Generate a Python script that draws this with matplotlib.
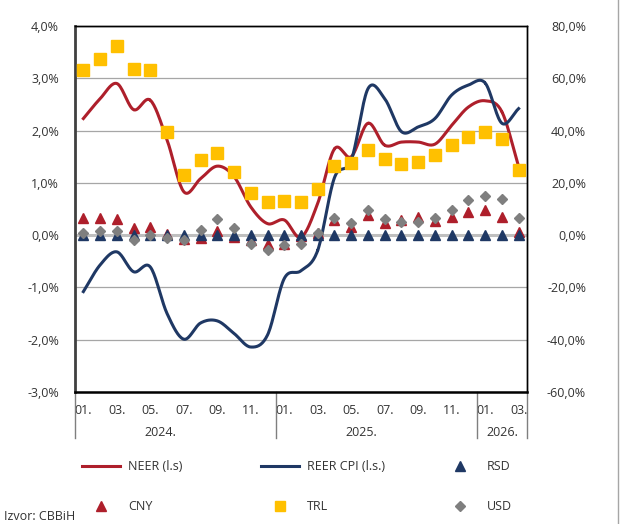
import matplotlib
matplotlib.use("Agg")
import matplotlib.pyplot as plt
from matplotlib.lines import Line2D
import numpy as np

plt.rcParams["font.family"] = ["Open Sans", "DejaVu Sans"]
plt.rcParams["font.size"] = 9

RED = "#AE1F2B"
NAVY = "#1F3864"
YELLOW = "#FFC000"
GREY = "#7F7F7F"
TXT = "#333333"

MONTHS = ["01.", "02.", "03.", "04.", "05.", "06.", "07.", "08.", "09.", "10.", "11.", "12.",
          "01.", "02.", "03.", "04.", "05.", "06.", "07.", "08.", "09.", "10.", "11.", "12.",
          "01.", "02.", "03."]
YEARS = ["2024.", "2025.", "2026."]

# left axis, %
NEER = [2.23, 2.61, 2.90, 2.40, 2.58, 1.82, 0.83, 1.08, 1.32, 1.12, 0.54, 0.22,
        0.29, -0.04, 0.61, 1.65, 1.50, 2.14, 1.72, 1.78, 1.78, 1.74, 2.10, 2.45,
        2.57, 2.36, 1.31]
REER = [-1.08, -0.57, -0.32, -0.70, -0.61, -1.50, -1.99, -1.68, -1.64, -1.88, -2.14, -1.91,
        -0.83, -0.68, -0.29, 1.10, 1.43, 2.80, 2.61, 1.98, 2.07, 2.23, 2.68, 2.87,
        2.91, 2.14, 2.42]
# right axis, %
RSD = [0.0, 0.0, 0.0, 0.0, 0.0, 0.0, 0.0, 0.0, 0.0, 0.0, 0.0, 0.0,
       0.0, 0.0, 0.0, 0.0, 0.0, 0.0, 0.0, 0.0, 0.0, 0.0, 0.0, 0.0,
       0.0, 0.0, 0.0]
CNY = [6.4, 6.4, 6.3, 2.6, 3.2, 0.6, -1.4, -1.0, 1.5, -0.6, -1.9, -3.2,
       -3.4, -0.3, 0.7, 5.7, 3.2, 7.6, 4.8, 5.8, 6.8, 5.5, 7.0, 8.7,
       9.8, 7.0, 1.3]
TRL = [63.1, 67.2, 72.3, 63.7, 63.1, 39.3, 22.9, 28.7, 31.6, 24.0, 16.3, 12.5,
       13.1, 12.5, 17.6, 26.5, 27.6, 32.5, 29.3, 27.2, 27.8, 30.6, 34.4, 37.6,
       39.3, 36.6, 24.9]
USD = [1.0, 1.5, 1.7, -1.9, 0.0, -1.0, -1.9, 1.9, 6.0, 2.8, -3.2, -5.7,
       -3.8, -3.4, 0.8, 6.4, 4.8, 9.8, 6.1, 5.0, 5.1, 6.4, 9.8, 13.4,
       14.9, 13.7, 6.4]


def smooth(values, n=20):
    # Catmull-Rom curve through the points, like Excel's smoothed line
    y = np.asarray(values, dtype=float)
    x = np.arange(len(y), dtype=float)
    px = np.concatenate([[2 * x[0] - x[1]], x, [2 * x[-1] - x[-2]]])
    py = np.concatenate([[2 * y[0] - y[1]], y, [2 * y[-1] - y[-2]]])
    t = np.linspace(0, 1, n)[:, None]
    xs, ys = [], []
    for i in range(len(y) - 1):
        for p, out in ((px, xs), (py, ys)):
            p0, p1, p2, p3 = p[i:i + 4]
            seg = 0.5 * (2 * p1 + (-p0 + p2) * t + (2 * p0 - 5 * p1 + 4 * p2 - p3) * t ** 2
                         + (-p0 + 3 * p1 - 3 * p2 + p3) * t ** 3)
            out.append(seg.ravel())
    return np.concatenate(xs), np.concatenate(ys)


W, H = 620, 524
fig = plt.figure(figsize=(W / 100, H / 100), dpi=100)
ax = fig.add_axes([75 / W, (H - 392) / H, (527 - 75) / W, (392 - 26) / H])
ax2 = ax.twinx()

x = np.arange(len(MONTHS))

# grid
for v in range(-3, 5):
    if v == 0:
        ax.axhline(v, color="#BFBFBF", lw=2.2, zorder=1)
    else:
        ax.axhline(v, color="#A6A6A6", lw=0.9, zorder=1)

ax.plot(*smooth(NEER), color=RED, lw=2.2, zorder=3)
ax.plot(*smooth(REER), color=NAVY, lw=2.2, zorder=3)

ax2.plot(x, CNY, "^", color=RED, ms=7.5, ls="none", zorder=3)
ax2.plot(x, RSD, "^", color=NAVY, ms=7.5, ls="none", zorder=4)
ax2.plot(x, USD, "D", color=GREY, ms=5.5, ls="none", zorder=5)
ax2.plot(x, TRL, "s", color=YELLOW, ms=8, ls="none", zorder=6)

ax.set_xlim(-0.5, len(MONTHS) - 0.5)
ax.set_ylim(-3, 4)
ax2.set_ylim(-60, 80)

ax.set_yticks(range(-3, 5))
ax.set_yticklabels([f"{v:.1f}%".replace(".", ",") for v in range(-3, 5)], color=TXT)
ax.tick_params(axis="y", length=0, pad=11.5)
ax2.set_yticks(range(-60, 81, 20))
ax2.set_yticklabels([f"{v:.1f}%".replace(".", ",") for v in range(-60, 81, 20)], color=TXT)
ax2.tick_params(axis="y", length=0, pad=42.5)
for lab in ax2.get_yticklabels():
    lab.set_horizontalalignment("right")

ax.set_xticks(x[::2])
ax.set_xticklabels(MONTHS[::2], color=TXT)
ax.tick_params(axis="x", length=0, pad=9)

for a in (ax, ax2):
    for s in a.spines.values():
        s.set_color("black")
        s.set_linewidth(1.0)
ax.spines["left"].set_color("#404040")
ax.spines["left"].set_linewidth(2)
ax.spines["bottom"].set_linewidth(1.8)
ax2.spines["left"].set_visible(False)
ax2.spines["bottom"].set_visible(False)

# year groups
trans = ax.get_xaxis_transform()
for xs in (-0.5, 11.5, 23.5, 26.5):
    ax.add_line(Line2D([xs, xs], [0, -46 / 366], transform=trans, color="#7F7F7F",
                       lw=1.0, clip_on=False))
for xp, yr in zip((4.6, 16.6, 25.0), YEARS):
    ax.text(xp, -(432.7 - 392) / 366, yr, transform=trans, ha="center", va="center",
            color=TXT)

# legend
def fx(px):
    return px / W


def fy(py):
    return 1 - py / H


rows = [
    [("line", RED, "NEER (l.s)", 82), ("line", NAVY, "REER CPI (l.s.)", 261), ("^", NAVY, "RSD", 441)],
    [("^", RED, "CNY", 82), ("s", YELLOW, "TRL", 261), ("D", GREY, "USD", 441)],
]
for row, py in zip(rows, (466, 506)):
    for kind, col, label, px in row:
        if kind == "line":
            fig.add_artist(Line2D([fx(px), fx(px + 38)], [fy(py), fy(py)], color=col, lw=2.2))
        else:
            ms = {"^": 7, "s": 7.5, "D": 5}[kind]
            fig.add_artist(Line2D([fx(px + 19)], [fy(py)], marker=kind, color=col, ms=ms, ls="none"))
        fig.text(fx(px + 46), fy(py), label, ha="left", va="center", color=TXT)

fig.text(fx(4), fy(517), "Izvor: CBBiH", ha="left", va="center", color=TXT)
fig.add_artist(Line2D([fx(617.5), fx(617.5)], [0, 1], color="#A6A6A6", lw=1.0))

fig.savefig("out.png", dpi=100, facecolor="white")
